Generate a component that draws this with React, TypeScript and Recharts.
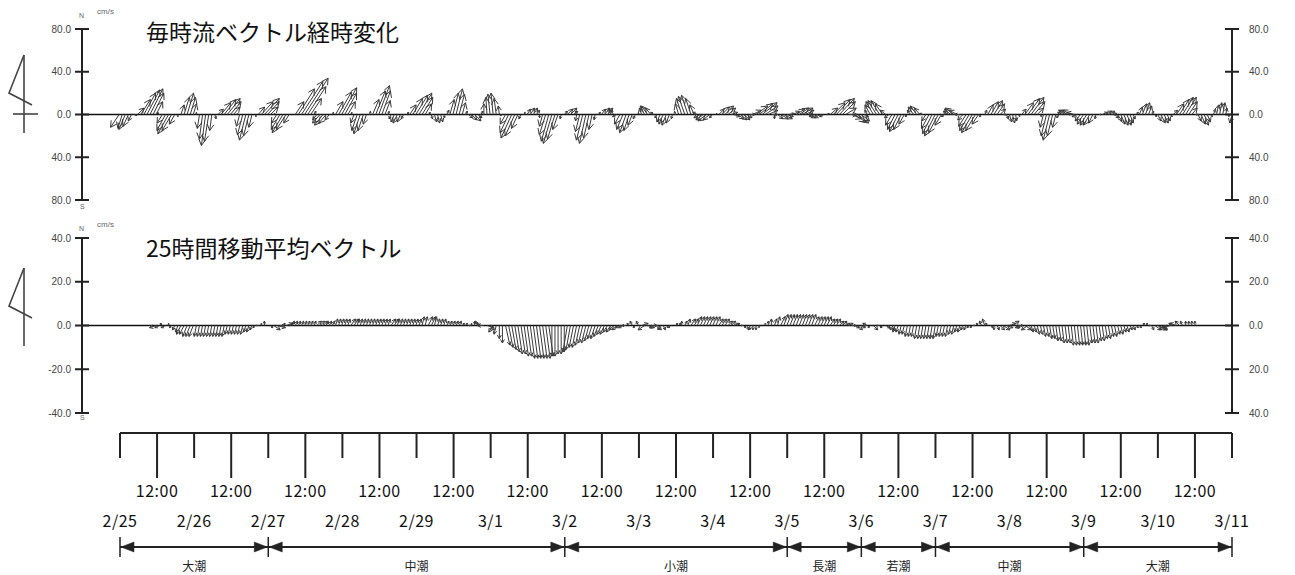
import React from 'react';
import { ComposedChart, Scatter, XAxis, YAxis, ReferenceLine } from 'recharts';

// hourly current vectors (cm/s), hour 0 = 2/25 0:00
const hourlyU = [
  -8, -4, -6, -5, -3, 2, 6, 9, 11, 12,
  12, 10, 6, -2, -5, -8, -10, -9, -5, 0, 3, 5,
  6, 5, 3, 0, -2, -3, -4, -4, -2, 1, 5, 9, 11,
  12, 10, 6, 1, -3, -5, -6, -5, -3, 1, 6, 11,
  14, 11, 7, 1, -5, -8, -10, -9, -5, 0, 8, 15, 20,
  22, 17, 10, 2, -4, -7, -8, -7, -4, 1, 7, 12,
  14, 11, 7, 1, -3, -5, -6, -5, -3, 1, 6, 9,
  10, 8, 5, 1, -2, -3, -4, -3, -2, 2, 6, 9, 11,
  12, 10, 6, 2, 1, 2, 2, 2, 1, 2, 4, 5,
  6, 5, 3, 2, 4, 5, 6, 4, 2, 0, -1, -2,
  -2, -2, -1, -2, -5, -8, -10, -9, -6, -2, 1, 3, 4,
  4, 3, 0, -3, -6, -7, -8, -7, -5, -1, 3, 5,
  6, 4, -1, -4, -6, -6, -5, -3, -1, 2, 4, 5, 5,
  -2, -3, -4, -5, -6, -6, -5, -4, -2, 0, -2, -4,
  -6, -5, -3, -2, -3, -4, -4, -3, -1, -1, -3, -5, -6,
  -6, -5, -4, -4, -6, -7, -8, -6, -3, 1, 5, 7,
  8, 7, 6, 5, 6, 6, 6, 5, 5, 8, 11, 13,
  14, 12, 9, 6, 0, 5, 7, 8, 6, 4, 6, 8, 9,
  10, 8, 4, -2, -5, -6, -6, -4, 2, 7, 11, 13,
  14, 12, 10, 8, 9, 10, 10, 8, 4, -2, -5, -7, -8,
  -8, -7, -5, -4, -6, -7, -8, -7, -5, -2, -3, -5,
  -6, -5, -3, -4, -7, -9, -10, -9, -6, -3, -4, -6,
  -8, -7, -5, -5, -7, -9, -10, -9, -6, -2, 2, 5, 7,
  8, 7, 5, 3, 2, 2, 2, 1, 1, 4, 8, 11,
  12, 10, 6, 1, -3, -5, -6, -5, -3, -2, -4, -6, -8,
  -8, -7, -5, -5, -6, -6, -6, -4, -1, 2, 5, 6,
  6, 5, 4, 4, 4, 4, 4, 3, 2, 2, 3, 4,
  4, 3, 2, 2, 3, 4, 4, 3, 2, 4, 7, 9, 10,
  10, 8, 5, 3, 3, 4, 4, 3, 2, 2, 2, 2, 2, 1, 0, -2,
];
const hourlyV = [
  -12, -13, -14, -11, -6, -1, 6, 14, 20, 23,
  24, 20, 12, 2, -8, -15, -18, -15, -9, -2, 9, 16,
  20, 16, 10, 2, -13, -23, -29, -25, -15, -4, 5, 11, 14,
  15, 12, 7, 1, -11, -19, -24, -20, -12, -2, 7, 12,
  15, 12, 7, 1, -8, -14, -17, -14, -8, 0, 12, 24, 31,
  34, 26, 15, 3, -5, -8, -10, -8, -5, 2, 12, 21,
  25, 20, 12, 2, -8, -15, -18, -15, -9, 3, 14, 22,
  27, 22, 13, 3, -4, -7, -8, -7, -4, 2, 9, 15, 18,
  20, 16, 10, 2, -4, -7, -8, -7, -3, 4, 14, 20,
  24, 19, 11, 3, -3, -5, -6, -3, 3, 10, 16, 19,
  20, 15, 8, -1, -9, -17, -22, -20, -13, -4, 2, 5, 6,
  6, 4, -3, -11, -19, -25, -27, -23, -14, -4, 3, 5,
  6, 3, -6, -16, -24, -27, -22, -14, -5, 2, 5, 6, 6,
  6, 4, -2, -9, -14, -17, -15, -10, -4, 2, 6, 8,
  8, 6, 2, -3, -7, -9, -10, -8, -4, 3, 10, 15, 17,
  18, 15, 9, 2, -3, -5, -6, -5, -3, 1, 5, 7,
  8, 6, 2, -2, -4, -5, -5, -3, 0, 4, 8, 10,
  11, 8, 4, 0, -4, -4, -4, -4, -2, 1, 3, 5, 6,
  6, 4, 1, -1, -2, -3, -3, -2, 1, 6, 11, 14,
  15, 12, 6, 0, -4, -7, -8, -6, -2, 4, 9, 12, 13,
  13, 10, 4, -3, -10, -14, -16, -14, -9, -2, 4, 7,
  8, 6, 1, -6, -13, -18, -20, -17, -10, -2, 3, 5,
  6, 4, 0, -5, -11, -15, -17, -15, -9, -2, 4, 9, 12,
  13, 10, 5, 0, -4, -7, -8, -6, -2, 5, 11, 15,
  16, 12, 6, -2, -12, -20, -24, -20, -12, -3, 2, 4, 4,
  4, 2, -2, -6, -9, -10, -10, -8, -4, 0, 2, 3,
  3, 1, -3, -6, -9, -10, -10, -8, -4, 2, 7, 10,
  11, 8, 3, -2, -6, -8, -8, -6, -2, 4, 10, 14, 16,
  16, 12, 6, 0, -6, -9, -10, -7, -2, 5, 9, 11, 11, 6, -2, -8,
];

// 25-hour moving average vectors (cm/s), first value at hour 12
const MEAN_START = 12;
const meanU = [
  -3, -2, -1, -2, 0, -1,
  -1, -1, -2, -2, -2, -2, -2, -1, -1, -1, -1, -1, -1, -1, -1, -1, -1, -1, -1, -1, -1, -1, -1, -1, -1, -1, -1, -1, 0, 0, 0,
  1, 3, 4, 2, 1, 3, 2, 1,
  1, 1, 1, 1, 1, 1, 1, 2, 2, 2, 1, 1, 1, 1, 1, 1, 1, 1, 2, 2, 1, 1, 1, 1, 1, 1, 1, 1,
  1, 1, 1, 2, 2, 1, 1, 1, 1, 1, 1, 1, 1, 1, 1, 2, 2, 1, 1, 1, 1, 1, 1, 1, 1, 1, 1,
  1, 1, 0, 0, -1, -2, -3, 3, 2, -2, -1, 0, 0,
  2, 2, 2, 2, 2, 2, 2, 2, 2, 2, 2, 2, 2, 2, 2, 0, 0, 0, 0, 0,
  -2, -2, -2, -2, -2, -2, -2, -2, -2, -2, -2, -2, -2, -2, -2, -2, -2, -2, -2, -2, -1, -1, -1, -1,
  3, -3, 3, 3, -2, 2, -1, 1,
  1, 0, 0, 1, 1, 0, 1, 1, 2, 2, 2, 2, 2,
  2, 2, 2, 2, 2, 2, 2, 2, 2, 2, 1, 1, 1, 1, 0,
  0, 0, 0, 0, 0, 0, 0, 1, 1,
  2, 2, 2, 2, 2, 2, 2, 2, 2, 2, 2, 2, 2, 2, 2, 2, 2, 2, 2, 2, 2, 2, 2, 2, 2, 2, 2,
  1, -2, -1, 2, 1, 1, -1, 2, 1, 1, -1, -1,
  -1, -1, -1, -1, -1, -1, -1, -1, -1, -1, -1, -1, -1, -1, -1, -1, -1, -1, -1, -1, -1, -1, -1, -1, -1, -1, -1, -1, -1,
  1, 0, 1, 2, 3, 3, 3, 3, 2, 2, -3, 3, -3, 1,
  1, 1, 1, 1, 1, 1, 1, 1, 1, 1, 1, 1, 1, 1, 1, 1, 1, 1, 1, 1, 1, 1, 1, 1, 1, 1, 1, 1, 1, 1, 1, 1, 1, 1, 1, 1, 1, 1, 1,
  3, 4, 3, -2, -2, -3, -2, -3, -2, -1, 0, 0, 0, 0, 0, 0, 0, 0,
];
const meanV = [
  -1, -1, 1, -1, 1, -1,
  -2, -3, -4, -4, -5, -5, -5, -5, -5, -5, -5, -5, -5, -5, -5, -5, -5, -4, -4, -4, -4, -4, -4, -3, -3, -2, -1,
  0, 1, 2, 0, -1, -2, -1, 0,
  1, 1, 1, 2, 2, 2, 2, 2, 2, 2, 2, 2,
  2, 2, 2, 2, 2, 3, 3, 3, 3, 3, 3, 3, 3, 3, 3, 3, 3, 3, 3, 3, 3, 3, 3, 3,
  3, 3, 3, 3, 3, 3, 3, 3, 3, 4, 4, 4, 4, 4, 3, 3, 3, 2, 2,
  2, 2, 2, 1, 1, 0, 1, 2, 2, 1, 0, -1, -2,
  -3, -4, -6, -8, -9, -10, -11, -12, -13, -13, -14, -14, -15, -15, -15, -15, -15, -15, -14, -14, -14, -13,
  -13, -12, -12, -11, -10, -10, -9, -8, -8, -7, -6, -6, -5, -4, -4, -3, -3, -2, -2, -1, -1, 0,
  1, 2, -1, 2, 1, -2, -1, 0,
  -1, -2, -2, -2, -1, -1, 0, 1, 1, 2, 2, 3, 3,
  3, 4, 4, 4, 4, 4, 4, 4, 3, 3, 3, 2, 2, 1, 1,
  0, -1, -2, -2, -2, -2, -1, 0, 1,
  2, 3, 3, 4, 4, 5, 5, 5, 5, 5, 5, 5, 5, 5, 5, 4, 4, 4, 4, 4, 3, 3, 3, 2, 2, 1, 1,
  0, -1, -2, -1, 0, 1, -1, -2, 0, -1, -1, -1,
  -2, -2, -3, -3, -4, -4, -5, -5, -5, -6, -6, -6, -6, -6, -6, -6, -5, -5, -5, -5, -4, -4, -3, -3, -2, -2, -1, -1, 0,
  1, 2, 3, 1, -1, -2, -2, -2, -2, -1, 1, 2, -1, 0,
  -1, -2, -2, -3, -3, -4, -4, -5, -5, -6, -6, -7, -7, -8, -8, -8, -9, -9, -9, -9, -9, -9, -8, -8, -8, -7,
  -7, -6, -6, -5, -5, -4, -4, -3, -3, -2, -2, -1, -1,
  1, 1, 0, -2, -2, -2, -2, -2, -1, -1, 1, 1, 2, 2, 2, 2, 2, 2,
];

const dayLabels = ['2/25', '2/26', '2/27', '2/28', '2/29', '3/1', '3/2', '3/3', '3/4', '3/5', '3/6', '3/7', '3/8', '3/9', '3/10', '3/11'];
const tideNames = ['大潮', '中潮', '小潮', '長潮', '若潮', '中潮', '大潮'];
const tideBounds = [0, 48, 144, 216, 240, 264, 312, 360]; // hours from 2/25 0:00
const hourlyTicks = [-80, -40, 0, 40, 80];
const meanTicks = [-40, -20, 0, 20, 40];

const hourlyData = hourlyU.map((u, i) => ({ t: i, y: 0, u, v: hourlyV[i] }));
const meanData = meanU.map((u, i) => ({ t: MEAN_START + i, y: 0, u, v: meanV[i] ?? 0 }));
const timeTicks = dayLabels.flatMap((_, i) => (i < dayLabels.length - 1 ? [i * 24, i * 24 + 12] : [i * 24]));
const boundData = tideBounds.map((t, i) => ({ t, y: 114, i }));
const tideLabelData = tideNames.map((name, i) => ({ t: (tideBounds[i] + tideBounds[i + 1]) / 2, y: 134, name }));

const W = 1295;
const LEFT = 81; // + 1px axis width -> plot starts at x=82
const RIGHT = W - 1232 - 1;
const JP = '"Noto Sans CJK JP", "Noto Sans", sans-serif';
const INK = '#222';

const makeArrow = (pxPerUnit: number, head: number) => (props: any) => {
  const { cx, cy, payload } = props;
  const dx = payload.u * pxPerUnit;
  const dy = -payload.v * pxPerUnit;
  const len = Math.hypot(dx, dy);
  if (len < 0.5) return <g />;
  const tx = cx + dx;
  const ty = cy + dy;
  const ang = Math.atan2(dy, dx);
  const h = Math.min(head, len * 0.6);
  const a1 = ang + Math.PI - 0.5;
  const a2 = ang + Math.PI + 0.5;
  return (
    <g stroke="#3a3a3a" strokeWidth={1} fill="none">
      <line x1={cx} y1={cy} x2={tx} y2={ty} />
      <polyline points={`${tx + h * Math.cos(a1)},${ty + h * Math.sin(a1)} ${tx},${ty} ${tx + h * Math.cos(a2)},${ty + h * Math.sin(a2)}`} />
    </g>
  );
};

const axisTick = (side: 'left' | 'right', signed: boolean) => (props: any) => {
  const { x, y, payload } = props;
  const val = signed ? payload.value : Math.abs(payload.value);
  return (
    <g>
      <line x1={x - 7} x2={x + 7} y1={y} y2={y} stroke={INK} strokeWidth={2} />
      <text
        x={side === 'left' ? x - 11 : x + 17}
        y={y + 3.5}
        textAnchor={side === 'left' ? 'end' : 'start'}
        fontSize={10}
        fontFamily="Liberation Sans, sans-serif"
        fill="#444"
      >
        {val.toFixed(1)}
      </text>
    </g>
  );
};

const TimeTick = (props: any) => {
  const { x, y, payload } = props;
  const isDay = payload.value % 24 === 0;
  return (
    <g>
      <line x1={x} x2={x} y1={y} y2={y + (isDay ? 25 : 45)} stroke={INK} strokeWidth={2} />
      <text x={x} y={isDay ? y + 94 : y + 64} textAnchor="middle" fontSize={16} fontFamily={JP} fill="#111" letterSpacing={0.5}>
        {isDay ? dayLabels[payload.value / 24] : '12:00'}
      </text>
    </g>
  );
};

const BoundMark = (props: any) => {
  const { cx, cy, payload } = props;
  const first = payload.i === 0;
  const last = payload.i === tideBounds.length - 1;
  return (
    <g fill={INK} stroke={INK}>
      <line x1={cx} x2={cx} y1={cy - 10} y2={cy + 10} strokeWidth={1.5} />
      {!first && <polygon points={`${cx - 1},${cy} ${cx - 14},${cy - 5} ${cx - 14},${cy + 5}`} strokeWidth={0.5} />}
      {!last && <polygon points={`${cx + 1},${cy} ${cx + 14},${cy - 5} ${cx + 14},${cy + 5}`} strokeWidth={0.5} />}
    </g>
  );
};

const TideLabel = (props: any) => {
  const { cx, cy, payload } = props;
  return (
    <text x={cx} y={cy + 4} textAnchor="middle" fontSize={12} fontFamily={JP} fill="#222">
      {payload.name}
    </text>
  );
};

const small: React.CSSProperties = { position: 'absolute', fontSize: 8, color: '#666', fontFamily: 'Liberation Sans, sans-serif', lineHeight: 1 };
const title: React.CSSProperties = { position: 'absolute', left: 146, fontSize: 23, color: '#111', fontFamily: JP, lineHeight: 1, whiteSpace: 'nowrap' };

const VectorPanel = ({ top, height, marginTop, marginBottom, domain, ticks, data, head, signed }: any) => {
  const plotH = height - marginTop - marginBottom;
  const pxPerUnit = plotH / (domain[1] - domain[0]);
  return (
    <div style={{ position: 'absolute', left: 0, top }}>
      <ComposedChart width={W} height={height} data={data} margin={{ top: marginTop, right: RIGHT, bottom: marginBottom, left: LEFT }}>
        <XAxis type="number" dataKey="t" domain={[-12, 360]} hide />
        <YAxis yAxisId="left" dataKey="y" type="number" domain={domain} ticks={ticks} interval={0} width={1}
          tickSize={0} tickMargin={0} tickLine={false} axisLine={{ stroke: INK, strokeWidth: 2 }} tick={axisTick('left', signed)} />
        <YAxis yAxisId="right" dataKey="y" orientation="right" type="number" domain={domain} ticks={ticks} interval={0} width={1}
          tickSize={0} tickMargin={0} tickLine={false} axisLine={{ stroke: INK, strokeWidth: 2 }} tick={axisTick('right', false)} />
        <ReferenceLine yAxisId="left" y={0} stroke="#111" strokeWidth={1.5} />
        <Scatter yAxisId="left" data={data} shape={makeArrow(pxPerUnit, head)} isAnimationActive={false} />
      </ComposedChart>
    </div>
  );
};

const NorthMark = ({ top, cross }: { top: number; cross: boolean }) => (
  <svg style={{ position: 'absolute', left: 0, top }} width={45} height={85}>
    <g stroke="#444" strokeWidth={1.6} fill="none">
      <line x1={24} y1={2} x2={24} y2={80} />
      <polyline points="24,2 9,40 32,52" />
      {cross && <line x1={13} x2={38} y1={61} y2={61} />}
    </g>
  </svg>
);

export default function App() {
  return (
    <div style={{ position: 'absolute', left: 0, top: 0, width: W, height: 575, background: '#fff', overflow: 'hidden' }}>
      <VectorPanel top={0} height={215} marginTop={29} marginBottom={15} domain={[-80, 80]} ticks={hourlyTicks}
        data={hourlyData} head={7} signed={false} />
      <VectorPanel top={215} height={215} marginTop={23} marginBottom={17} domain={[-40, 40]} ticks={meanTicks}
        data={meanData} head={4} signed={true} />

      <div style={{ position: 'absolute', left: 0, top: 420 }}>
        <ComposedChart width={W} height={155} margin={{ top: 12, right: 63, bottom: 0, left: 120 }}>
          <XAxis type="number" dataKey="t" orientation="top" domain={[0, 360]} ticks={timeTicks} interval={0} height={1}
            tickSize={0} tickMargin={0} tickLine={false} axisLine={{ stroke: INK, strokeWidth: 2 }} tick={TimeTick} />
          <YAxis type="number" dataKey="y" domain={[0, 142]} reversed hide />
          {tideNames.map((name, i) => (
            <ReferenceLine key={name + i} segment={[{ x: tideBounds[i], y: 114 }, { x: tideBounds[i + 1], y: 114 }]} stroke={INK} strokeWidth={2} />
          ))}
          <Scatter data={boundData} shape={BoundMark} isAnimationActive={false} />
          <Scatter data={tideLabelData} shape={TideLabel} isAnimationActive={false} />
        </ComposedChart>
      </div>

      <div style={{ ...title, top: 20 }}>毎時流ベクトル経時変化</div>
      <div style={{ ...title, top: 236 }}>25時間移動平均ベクトル</div>

      <div style={{ ...small, left: 97, top: 8 }}>cm/s</div>
      <div style={{ ...small, left: 97, top: 221 }}>cm/s</div>
      <div style={{ ...small, left: 79, top: 12, fontSize: 7 }}>N</div>
      <div style={{ ...small, left: 80, top: 203, fontSize: 7 }}>S</div>
      <div style={{ ...small, left: 79, top: 225, fontSize: 7 }}>N</div>
      <div style={{ ...small, left: 80, top: 414, fontSize: 7 }}>S</div>

      <NorthMark top={53} cross={true} />
      <NorthMark top={266} cross={false} />
    </div>
  );
}
